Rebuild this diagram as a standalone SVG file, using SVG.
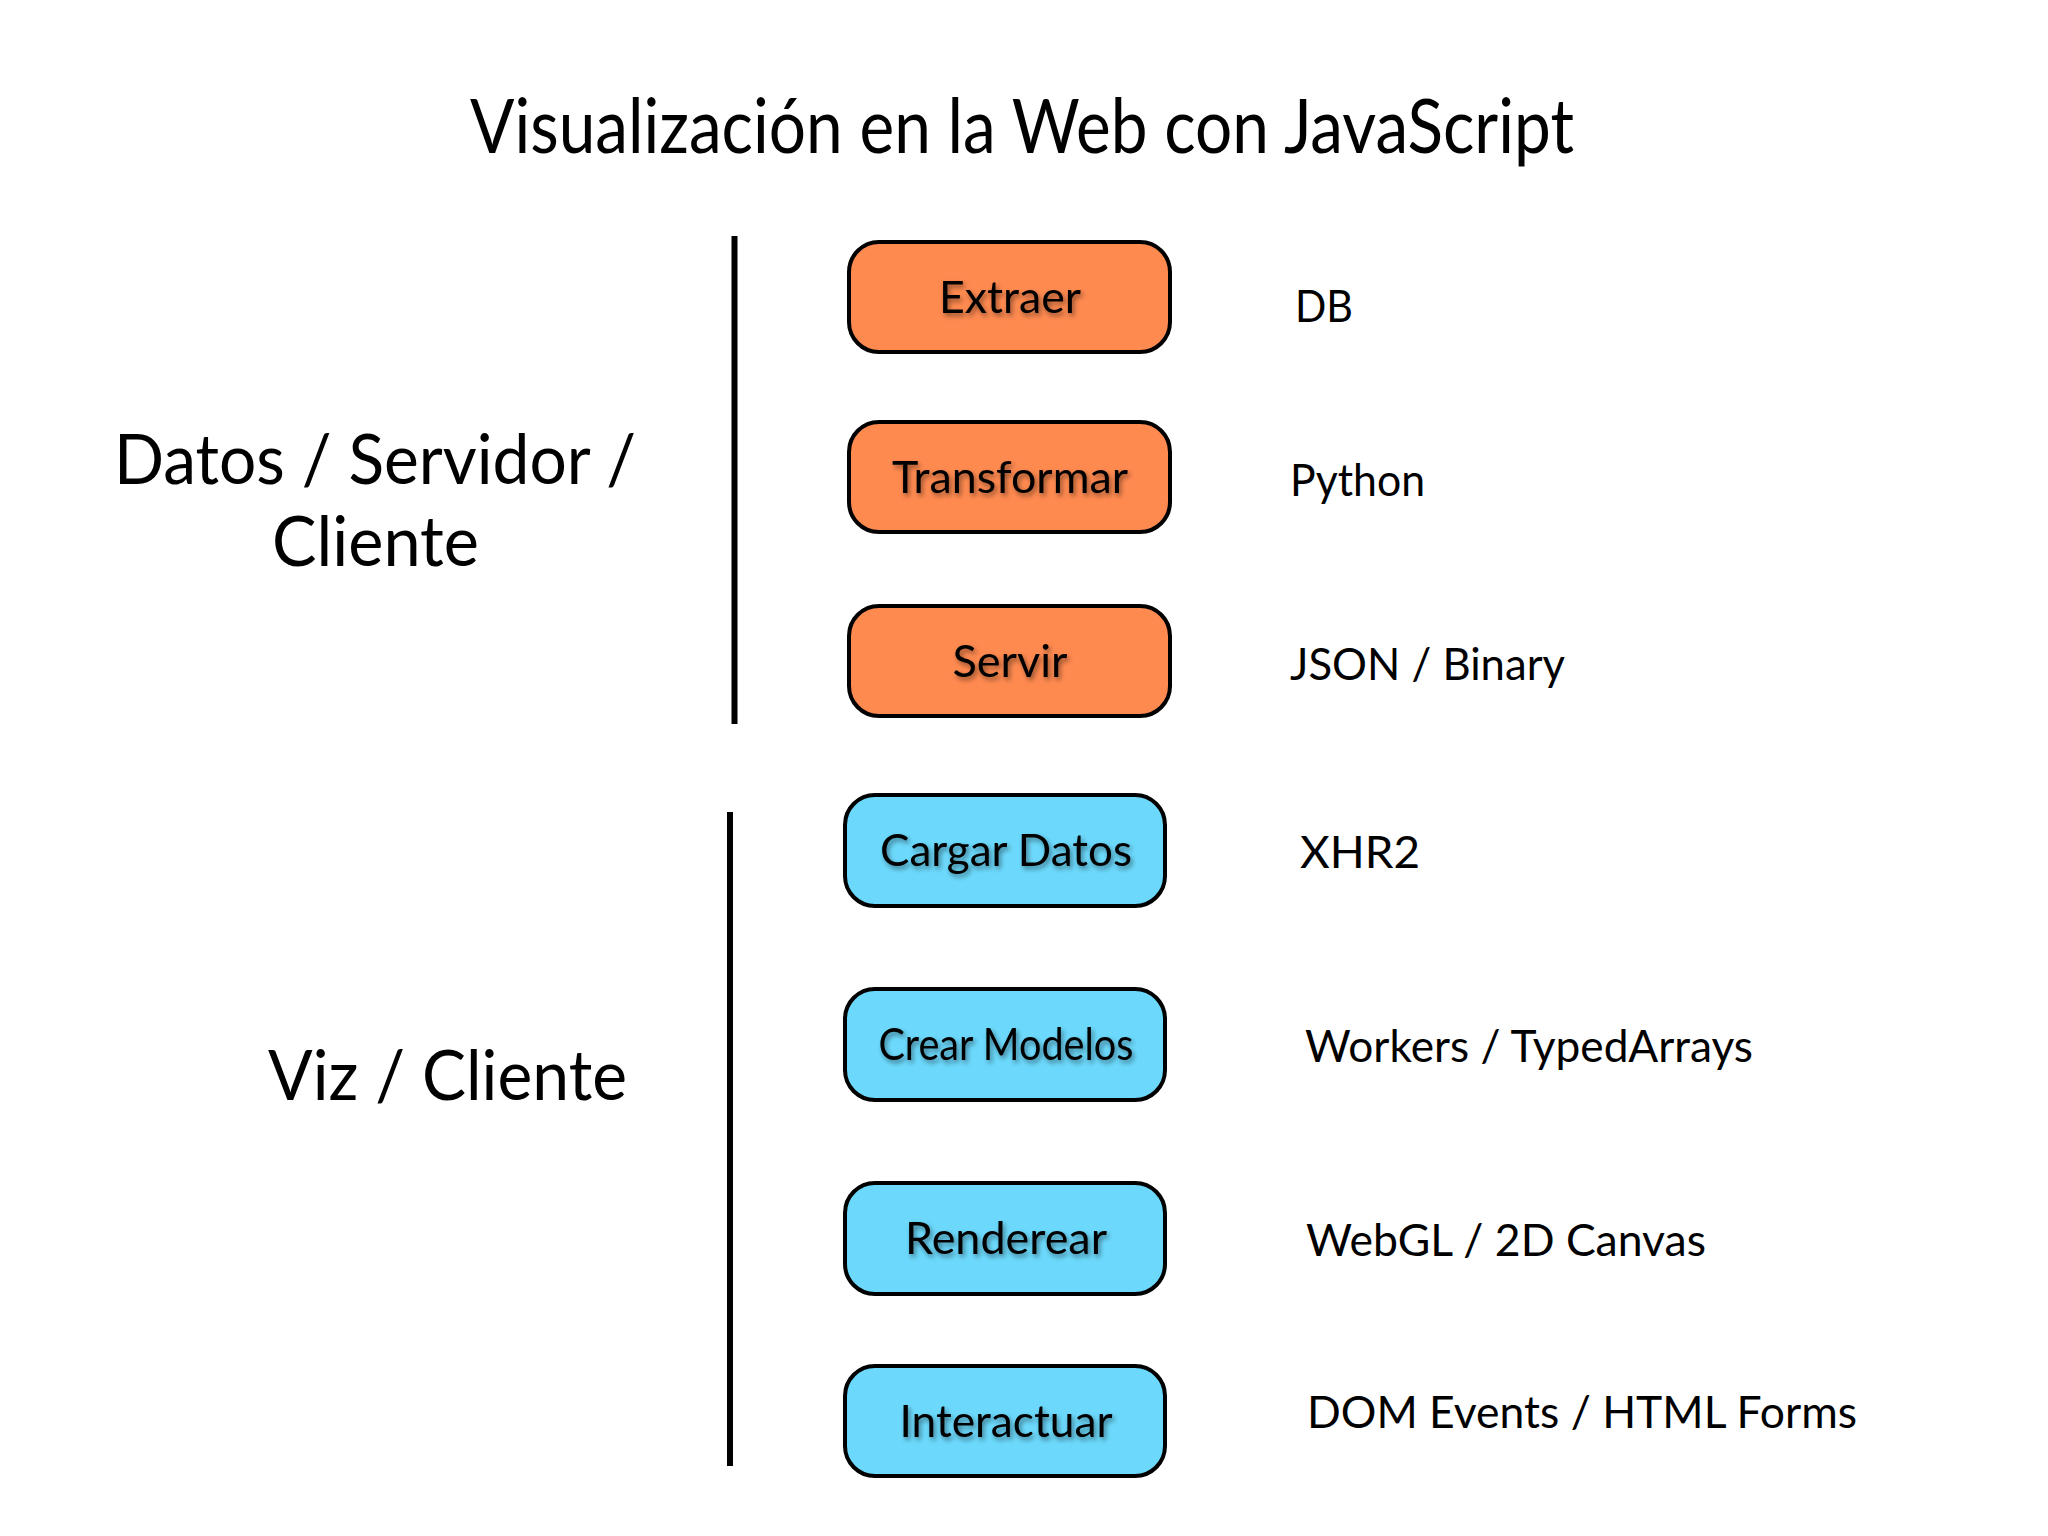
<svg xmlns="http://www.w3.org/2000/svg" width="2048" height="1536" viewBox="0 0 2048 1536">
  <defs>
    <filter id="shadow" x="-10%" y="-30%" width="120%" height="160%">
      <feDropShadow dx="2" dy="3" stdDeviation="2.5" flood-color="#000" flood-opacity="0.45"/>
    </filter>
  </defs>
  <style>
    text { font-family: Lato, "Open Sans", "Liberation Sans", sans-serif; fill: #000; }
    .title { font-size: 75px; }
    .side { font-size: 70px; text-anchor: middle; }
    .tech { font-size: 44px; }
    .box rect { stroke: #000; stroke-width: 4; }
    .orange rect { fill: #FF8A50; }
    .blue rect { fill: #6CD9FC; }
    .box text { font-size: 45px; text-anchor: middle; filter: url(#shadow); }
    .bar { stroke: #000; stroke-width: 6; fill: none; }
  </style>
  <rect width="2048" height="1536" fill="#ffffff"/>

  <text id="title" class="title" x="470" y="153" textLength="1104" lengthAdjust="spacingAndGlyphs">Visualización en la Web con JavaScript</text>

  <g id="connectors">
    <line class="bar" x1="734.5" y1="236" x2="734.5" y2="724"/>
    <line class="bar" x1="730" y1="812" x2="730" y2="1466"/>
  </g>

  <g id="group-datos">
    <text class="side" x="375" y="484" textLength="522" lengthAdjust="spacingAndGlyphs">Datos / Servidor /</text>
    <text class="side" x="375.5" y="566" textLength="207" lengthAdjust="spacingAndGlyphs">Cliente</text>
  </g>
  <g id="group-viz">
    <text class="side" x="447.5" y="1100" textLength="359" lengthAdjust="spacingAndGlyphs">Viz / Cliente</text>
  </g>

  <g id="node-extraer" class="box orange">
    <rect x="849" y="242" width="321" height="110" rx="30"/>
    <text x="1010" y="313" textLength="142" lengthAdjust="spacingAndGlyphs">Extraer</text>
  </g>
  <g id="node-transformar" class="box orange">
    <rect x="849" y="422" width="321" height="110" rx="30"/>
    <text x="1010" y="493" textLength="236" lengthAdjust="spacingAndGlyphs">Transformar</text>
  </g>
  <g id="node-servir" class="box orange">
    <rect x="849" y="606" width="321" height="110" rx="30"/>
    <text x="1010" y="677" textLength="115" lengthAdjust="spacingAndGlyphs">Servir</text>
  </g>
  <g id="node-cargar" class="box blue">
    <rect x="845" y="795" width="320" height="111" rx="30"/>
    <text x="1006" y="866" textLength="252" lengthAdjust="spacingAndGlyphs">Cargar Datos</text>
  </g>
  <g id="node-crear" class="box blue">
    <rect x="845" y="989" width="320" height="111" rx="30"/>
    <text x="1006" y="1060" textLength="255" lengthAdjust="spacingAndGlyphs">Crear Modelos</text>
  </g>
  <g id="node-renderear" class="box blue">
    <rect x="845" y="1183" width="320" height="111" rx="30"/>
    <text x="1006" y="1254" textLength="202" lengthAdjust="spacingAndGlyphs">Renderear</text>
  </g>
  <g id="node-interactuar" class="box blue">
    <rect x="845" y="1366" width="320" height="110" rx="30"/>
    <text x="1006" y="1437" textLength="213" lengthAdjust="spacingAndGlyphs">Interactuar</text>
  </g>

  <g id="tech-labels">
    <text class="tech" x="1295" y="322" textLength="58" lengthAdjust="spacingAndGlyphs">DB</text>
    <text class="tech" x="1290" y="496" textLength="135" lengthAdjust="spacingAndGlyphs">Python</text>
    <text class="tech" x="1290" y="680" textLength="275" lengthAdjust="spacingAndGlyphs">JSON / Binary</text>
    <text class="tech" x="1300" y="868" textLength="120" lengthAdjust="spacingAndGlyphs">XHR2</text>
    <text class="tech" x="1305" y="1062" textLength="448" lengthAdjust="spacingAndGlyphs">Workers / TypedArrays</text>
    <text class="tech" x="1306" y="1256" textLength="400" lengthAdjust="spacingAndGlyphs">WebGL / 2D Canvas</text>
    <text class="tech" x="1307" y="1428" textLength="550" lengthAdjust="spacingAndGlyphs">DOM Events / HTML Forms</text>
  </g>
</svg>
